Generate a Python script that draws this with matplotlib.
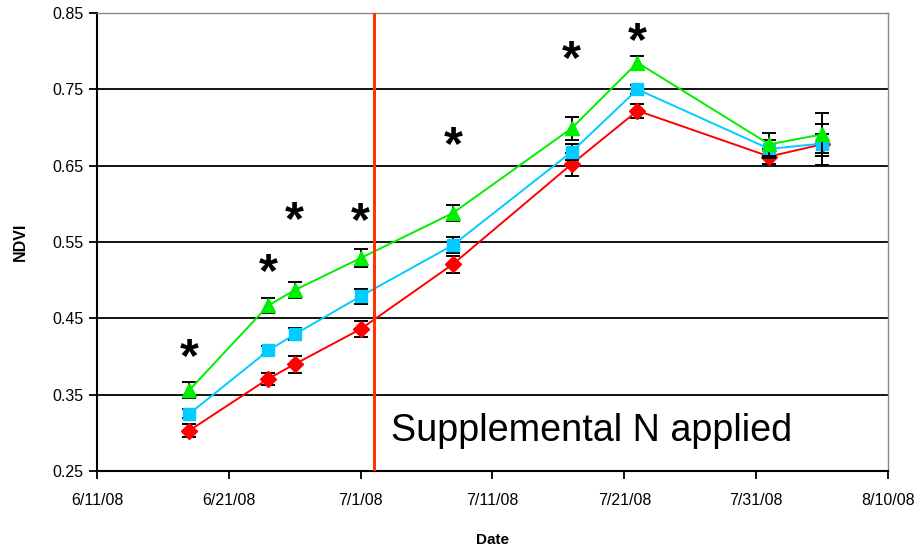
import matplotlib
matplotlib.use("Agg")
import matplotlib.pyplot as plt
from datetime import datetime

plt.rcParams['font.family'] = ['Liberation Sans', 'DejaVu Sans']

dates = ["2008-06-18", "2008-06-24", "2008-06-26", "2008-07-01", "2008-07-08",
         "2008-07-17", "2008-07-22", "2008-08-01", "2008-08-05"]
red_vals = [0.303, 0.371, 0.390, 0.436, 0.521, 0.652, 0.722, 0.662, 0.678]
red_err = [0.009, 0.008, 0.011, 0.010, 0.011, 0.015, 0.009, 0.010, 0.027]
cyan_vals = [0.325, 0.408, 0.429, 0.479, 0.546, 0.668, 0.750, 0.672, 0.679]
cyan_err = [0.006, 0.006, 0.008, 0.010, 0.010, 0.010, 0.006, 0.012, 0.012]
green_vals = [0.356, 0.467, 0.487, 0.529, 0.588, 0.699, 0.785, 0.678, 0.691]
green_err = [0.010, 0.010, 0.010, 0.012, 0.010, 0.015, 0.009, 0.015, 0.028]

star_dates = ["2008-06-18", "2008-06-24", "2008-06-26", "2008-07-01",
              "2008-07-08", "2008-07-17", "2008-07-22"]
star_y = [0.398, 0.509, 0.577, 0.575, 0.675, 0.788, 0.811]

n_date = "2008-07-02"
label_date = "2008-07-03 08"
xlim_dates = ["2008-06-11", "2008-08-10"]
tick_dates = ["2008-06-11", "2008-06-21", "2008-07-01", "2008-07-11",
              "2008-07-21", "2008-07-31", "2008-08-10"]
yticks = [0.25, 0.35, 0.45, 0.55, 0.65, 0.75, 0.85]

to_dt = lambda s: datetime.strptime(s, "%Y-%m-%d")
x = [to_dt(d) for d in dates]

fig = plt.figure(figsize=(9.24, 5.52), dpi=100)
ax = fig.add_axes([0.105, 0.1467, 0.856, 0.8297])

for yv in yticks[1:-1]:
    ax.axhline(yv, color='black', lw=1.3, zorder=1)

series = [
    (red_vals, red_err, '#FF0000', 'D', 8),
    (cyan_vals, cyan_err, '#00CCFF', 's', 8),
    (green_vals, green_err, '#00EE00', '^', 10),
]
for i, (v, e, c, m, ms) in enumerate(series):
    ax.errorbar(x, v, yerr=e, fmt='none', ecolor='black', elinewidth=1.4,
                capsize=5, capthick=1.4, zorder=3 + 2 * i)
    ax.plot(x, v, color=c, marker=m, ms=ms, lw=1.4, zorder=4 + 2 * i)

ax.axvline(to_dt(n_date), color='#FF3300', lw=2.2, zorder=9)

for d, yv in zip(star_dates, star_y):
    ax.text(to_dt(d), yv, "*", ha='center', va='center', fontsize=35,
            fontweight='bold', color='black', zorder=10)

ax.text(datetime.strptime(label_date, "%Y-%m-%d %H"), 0.302,
        "Supplemental N applied", fontsize=27.2,
        ha='left', va='center', color='black')

ax.set_xlim(to_dt(xlim_dates[0]), to_dt(xlim_dates[1]))
ax.set_ylim(0.25, 0.85)
ax.set_yticks(yticks)
ax.set_yticklabels([f"{t:.2f}" for t in yticks])
ax.set_xticks([to_dt(d) for d in tick_dates])
ax.set_xticklabels([f"{to_dt(d).month}/{to_dt(d).day}/08" for d in tick_dates])
ax.tick_params(axis='both', labelsize=11.5, direction='out', length=6, width=1.3, color='black')
ax.tick_params(axis='x', pad=10)

for s in ['left', 'bottom']:
    ax.spines[s].set_color('black')
    ax.spines[s].set_linewidth(1.5)
for s in ['top', 'right']:
    ax.spines[s].set_color('#888888')
    ax.spines[s].set_linewidth(1.0)

ax.set_ylabel("NDVI", fontsize=11.5, fontweight='bold', labelpad=18)
ax.set_xlabel("Date", fontsize=11, fontweight='bold', labelpad=18)

fig.savefig("out.png", dpi=100)
